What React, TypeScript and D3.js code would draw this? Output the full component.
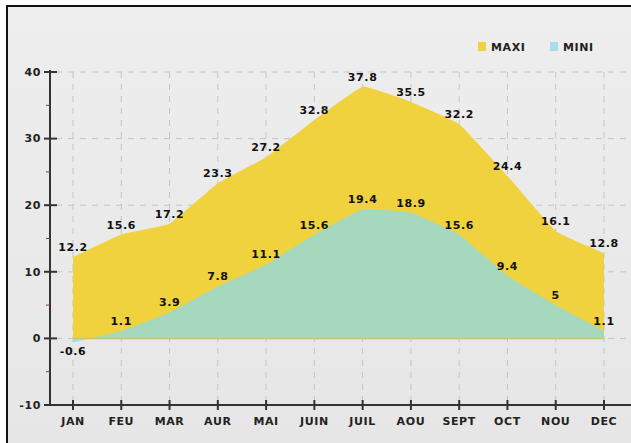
import React from "react";
import * as d3 from "d3";

const months = ["JAN", "FEU", "MAR", "AUR", "MAI", "JUIN", "JUIL", "AOU", "SEPT", "OCT", "NOU", "DEC"];
const maxi = [12.2, 15.6, 17.2, 23.3, 27.2, 32.8, 37.8, 35.5, 32.2, 24.4, 16.1, 12.8];
const mini = [-0.6, 1.1, 3.9, 7.8, 11.1, 15.6, 19.4, 18.9, 15.6, 9.4, 5, 1.1];
const yTicks = [-10, 0, 10, 20, 30, 40];
const yMinor = [-5, 5, 15, 25, 35];

const W = 631;
const H = 443;
const font = "'DejaVu Sans', sans-serif";

const App = () => {
  const x = d3.scalePoint<string>().domain(months).range([73, 604]);
  const y = d3.scaleLinear().domain([-10, 40]).range([405, 72]);

  const areaMax = d3.area<number>()
    .x((d, i) => x(months[i]) as number)
    .y0(y(0))
    .y1(d => y(d))
    .curve(d3.curveCardinal.tension(0.75));

  const areaMin = d3.area<number>()
    .x((d, i) => x(months[i]) as number)
    .y0(y(0))
    .y1(d => y(d))
    .curve(d3.curveCardinal.tension(0.75));

  const lbl = { fontFamily: font, fontSize: 11, fontWeight: "bold", letterSpacing: 0.6 } as const;

  return (
    <div style={{ position: "absolute", left: 0, top: 0 }}>
      <svg width={W} height={H} style={{ display: "block" }}>
        <defs>
          <linearGradient id="bg" x1="0" y1="0" x2="0" y2="1">
            <stop offset="0" stopColor="#eeeeee" />
            <stop offset="1" stopColor="#e6e6e6" />
          </linearGradient>
        </defs>
        <rect x={0} y={0} width={W} height={H} fill="#fff" />
        <rect x={7} y={6} width={W} height={H} fill="url(#bg)" stroke="#111" strokeWidth={2} />

        {/* grid */}
        {yTicks.filter(t => t > -10).map(t => (
          <line key={"gy" + t} x1={56} x2={W} y1={y(t)} y2={y(t)}
            stroke="#c4c4c4" strokeDasharray="6,6" strokeWidth={1} />
        ))}
        {months.map(m => (
          <line key={"gx" + m} x1={x(m)} x2={x(m)} y1={y(40)} y2={y(-10)}
            stroke="#c4c4c4" strokeDasharray="6,6" strokeWidth={1} />
        ))}

        {/* areas */}
        <path d={areaMax(maxi) || ""} fill="#f0d23e" />
        <line x1={x("JAN")} x2={x("DEC")} y1={y(0)} y2={y(0)} stroke="#e2bd2a" strokeWidth={1.5} />
        <path d={areaMin(mini) || ""} fill="#95d9da" fillOpacity={0.82} />

        {/* y axis */}
        <line x1={50} x2={50} y1={y(40) - 2} y2={y(-10)} stroke="#333" strokeWidth={2} />
        {yTicks.map(t => (
          <g key={"yt" + t}>
            <line x1={44} x2={57} y1={y(t)} y2={y(t)} stroke="#333" strokeWidth={2} />
            <text x={41} y={y(t)} dy="0.35em" textAnchor="end" {...lbl} fill="#222">{t}</text>
          </g>
        ))}
        {yMinor.map(t => (
          <line key={"ym" + t} x1={46} x2={50} y1={y(t)} y2={y(t)} stroke="#a03030" strokeWidth={1} />
        ))}

        {/* x axis */}
        <line x1={49} x2={W} y1={y(-10)} y2={y(-10)} stroke="#333" strokeWidth={2} />
        {months.map(m => (
          <g key={"xt" + m}>
            <line x1={x(m)} x2={x(m)} y1={y(-10) - 5} y2={y(-10) + 5} stroke="#333" strokeWidth={2} />
            <text x={x(m)} y={y(-10) + 20} textAnchor="middle" {...lbl} fill="#222">{m}</text>
          </g>
        ))}

        {/* value labels */}
        {maxi.map((v, i) => (
          <text key={"lx" + i} x={x(months[i])} y={y(v) - 6} textAnchor="middle" {...lbl} fill="#111">{v}</text>
        ))}
        {mini.map((v, i) => (
          <text key={"ln" + i} x={x(months[i])} y={v < 0 ? y(v) + 13 : y(v) - 6} textAnchor="middle"
            {...lbl} fill="#111">{v}</text>
        ))}

        {/* legend */}
        <rect x={478} y={42} width={8} height={9} fill="#f0d23e" />
        <text x={491} y={51} {...lbl} fill="#222">MAXI</text>
        <rect x={550} y={42} width={8} height={9} fill="#a6dcee" />
        <text x={563} y={51} {...lbl} fill="#222">MINI</text>
      </svg>
    </div>
  );
};

export default App;
